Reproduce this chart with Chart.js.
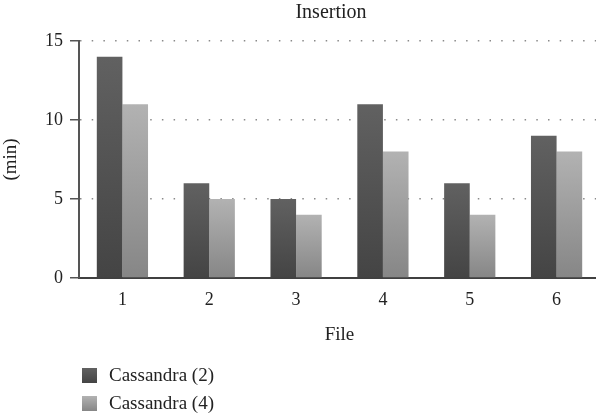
<!DOCTYPE html>
<html>
<head>
<meta charset="utf-8">
<script src="https://cdn.jsdelivr.net/npm/chart.js@4"></script>
<style>
  html, body { margin: 0; padding: 0; background: #fff; overflow: hidden; }
  #wrap { position: relative; width: 602px; height: 417px; }
  #legend { position: absolute; left: 82px; top: 361px; font-family: "Liberation Serif", serif; font-size: 19px; color: #222; }
  .row { display: flex; align-items: center; height: 28px; }
  .box { width: 15px; height: 15px; margin-right: 12px; }
</style>
</head>
<body>
<div id="wrap">
  <canvas id="myChart" width="602" height="417"></canvas>
  <div id="legend"></div>
</div>
<script>
// datos del grafico
const files = ['1', '2', '3', '4', '5', '6'];
const seriesNames = ['Cassandra (2)', 'Cassandra (4)'];
const cassandra2 = [14, 6, 5, 11, 6, 9];
const cassandra4 = [11, 5, 4, 8, 4, 8];
const yTicks = [0, 5, 10, 15];

// colores degradados (arriba, abajo)
const shades = [['#616161', '#444444'], ['#b2b2b2', '#868686']];

function barGradient(idx) {
    return function (ctx) {
        let chart = ctx.chart;
        let y = chart.scales.y;
        if (!chart.chartArea || !y || ctx.raw === undefined) return shades[idx][0];
        let top = y.getPixelForValue(ctx.raw);
        let bottom = y.getPixelForValue(0);
        let g = chart.ctx.createLinearGradient(0, top, 0, bottom);
        g.addColorStop(0, shades[idx][0]);
        g.addColorStop(1, shades[idx][1]);
        return g;
    };
}

// titulo arriba
const titlePlugin = {
    id: 'topTitle',
    afterDraw(chart) {
        let c = chart.ctx;
        c.save();
        c.font = '20px "Liberation Serif"';
        c.fillStyle = '#222';
        c.textAlign = 'center';
        c.textBaseline = 'middle';
        c.fillText('Insertion', 331, 13);
        c.restore();
    }
};

const serif = { family: '"Liberation Serif", serif' };

new Chart(document.getElementById('myChart'), {
    type: 'bar',
    data: {
        labels: files,
        datasets: [
            { label: seriesNames[0], data: cassandra2, backgroundColor: barGradient(0), borderWidth: 0 },
            { label: seriesNames[1], data: cassandra4, backgroundColor: barGradient(1), borderWidth: 0 }
        ]
    },
    options: {
        responsive: false,
        animation: false,
        devicePixelRatio: 1,
        layout: { padding: { top: 41, right: 2, bottom: 71, left: 0 } },
        datasets: { bar: { categoryPercentage: 0.59, barPercentage: 1 } },
        scales: {
            x: {
                afterFit: s => { s.height = 68; },
                grid: { display: false, drawTicks: false },
                border: { display: true, color: '#404040', width: 2 },
                ticks: { color: '#222', padding: 11, font: { ...serif, size: 18 } },
                title: { display: true, text: 'File', color: '#222', font: { ...serif, size: 19 }, padding: 0 }
            },
            y: {
                min: 0,
                max: 15,
                afterFit: s => { s.width = 79; },
                afterBuildTicks: s => { s.ticks = yTicks.map(v => ({ value: v })); },
                grid: {
                    color: c => c.tick && c.tick.value === 0 ? 'rgba(0,0,0,0)' : '#8a8a8a',
                    lineWidth: 1.5,
                    tickColor: '#555',
                    tickLength: 9,
                    tickWidth: 1.5,
                    tickBorderDash: []
                },
                border: { display: true, color: '#555', width: 2, dash: [1.5, 10.2] },
                ticks: { color: '#222', padding: 7, font: { ...serif, size: 18 } },
                title: { display: true, text: '(min)', color: '#222', font: { ...serif, size: 19 }, padding: 0 }
            }
        },
        plugins: {
            legend: { display: false },
            tooltip: { enabled: false }
        }
    },
    plugins: [titlePlugin]
});

// leyenda en html
let legend = document.getElementById('legend');
seriesNames.forEach((name, i) => {
    let row = document.createElement('div');
    row.className = 'row';
    row.innerHTML = '<div class="box" style="background:linear-gradient(' + shades[i][0] + ',' + shades[i][1] + ')"></div><span>' + name + '</span>';
    legend.appendChild(row);
});
</script>
</body>
</html>
